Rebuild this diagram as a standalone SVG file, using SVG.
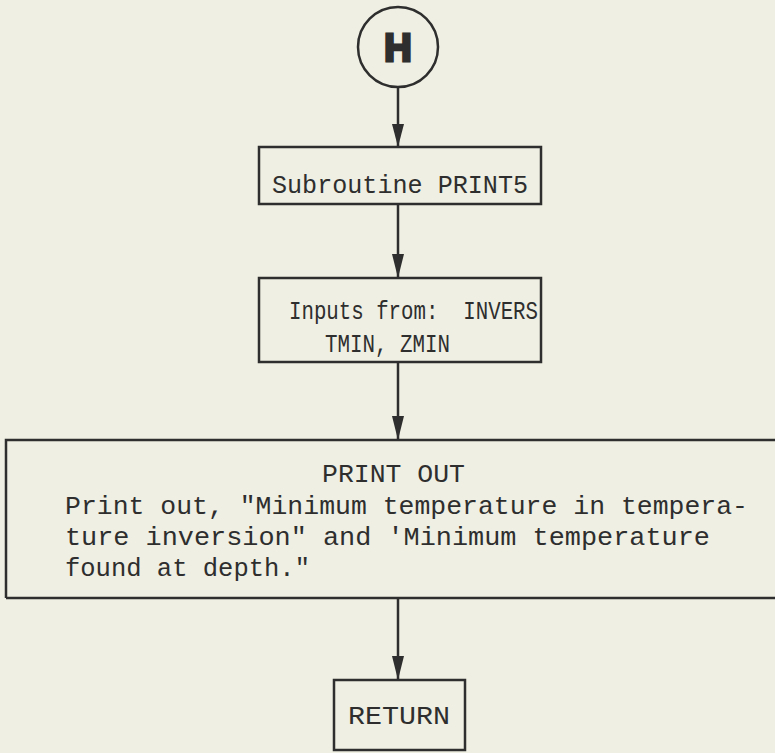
<svg xmlns="http://www.w3.org/2000/svg" width="775" height="753" viewBox="0 0 775 753">
<defs>
<style>
.box{fill:none;stroke:#2e2e2e;stroke-width:2.5}
.t{font-family:"Liberation Mono","DejaVu Sans Mono",monospace;font-size:25px;fill:#2e2e2e}
.c{stroke:#2e2e2e;stroke-width:2.5;fill:none}
.ah{fill:#2e2e2e}
</style>
</defs>
<rect width="775" height="753" fill="#efefe3"/>
<g id="connectors">
<line class="c" x1="398" y1="88" x2="398" y2="146"/>
<path class="ah" d="M392,124 L404,124 L398,147 Z"/>
<line class="c" x1="398" y1="204" x2="398" y2="277"/>
<path class="ah" d="M392,254 L404,254 L398,278 Z"/>
<line class="c" x1="398" y1="362" x2="398" y2="439"/>
<path class="ah" d="M392,416 L404,416 L398,440 Z"/>
<line class="c" x1="398" y1="598" x2="398" y2="679"/>
<path class="ah" d="M392,656 L404,656 L398,680 Z"/>
</g>
<g id="connector-H">
<circle cx="398" cy="47" r="40" class="box"/>
<text x="398" y="61" text-anchor="middle" style="font-family:'Liberation Sans','DejaVu Sans',sans-serif;font-weight:bold;font-size:38px;fill:#2e2e2e;stroke:#2e2e2e;stroke-width:3">H</text>
</g>
<g id="subroutine">
<rect class="box" x="259" y="147" width="282" height="57"/>
<text class="t" x="272" y="193" textLength="256" lengthAdjust="spacingAndGlyphs">Subroutine PRINT5</text>
</g>
<g id="inputs">
<rect class="box" x="259" y="278" width="282" height="84"/>
<text class="t" x="289" y="319" textLength="249" lengthAdjust="spacingAndGlyphs" xml:space="preserve">Inputs from:  INVERS</text>
<text class="t" x="325" y="352" textLength="125" lengthAdjust="spacingAndGlyphs">TMIN, ZMIN</text>
</g>
<g id="printout">
<path class="box" d="M6,598 L6,440 L775,440 M6,598 L775,598"/>
<text class="t" x="322" y="482" textLength="143" lengthAdjust="spacingAndGlyphs">PRINT OUT</text>
<text class="t" x="65" y="514" textLength="683" lengthAdjust="spacingAndGlyphs">Print out, "Minimum temperature in tempera-</text>
<text class="t" x="65" y="545" textLength="645" lengthAdjust="spacingAndGlyphs">ture inversion" and 'Minimum temperature</text>
<text class="t" x="65" y="576" textLength="245" lengthAdjust="spacingAndGlyphs">found at depth."</text>
</g>
<g id="return">
<rect class="box" x="334" y="680" width="131" height="70"/>
<text class="t" x="348" y="724" textLength="102" lengthAdjust="spacingAndGlyphs">RETURN</text>
</g>
</svg>
